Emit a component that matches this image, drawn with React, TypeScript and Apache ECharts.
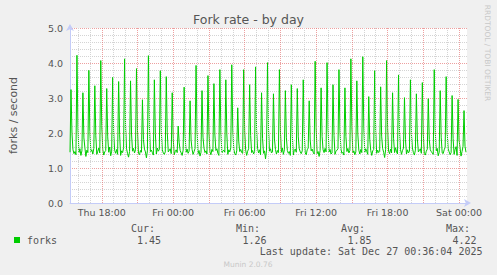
import React, { useEffect, useRef } from "react";
import * as echarts from "echarts";

// 5-minute samples, first sample at Thu 15:20 (minutes counted from Thu 00:00)
const startMinute = 920;
const stepMinutes = 5;

const forks: number[] = [
  1.45,
  3.24, 1.98, 1.52, 1.41, 1.47, 1.38,
  4.22, 2.15, 1.44, 1.55, 1.36, 1.49,
  3.15, 1.86, 1.58, 1.33, 1.51, 1.44,
  3.79, 2.04, 1.47, 1.52, 1.40, 1.56,
  3.35, 1.92, 1.39, 1.48, 1.57, 1.43,
  4.07, 2.21, 1.53, 1.37, 1.46, 1.50,
  3.27, 1.89, 1.45, 1.60, 1.35, 1.48,
  3.59, 2.01, 1.50, 1.42, 1.53, 1.39,
  3.47, 1.95, 1.36, 1.49, 1.44, 1.58,
  4.12, 2.18, 1.55, 1.41, 1.31, 1.47,
  3.49, 1.97, 1.48, 1.56, 1.43, 1.52,
  3.84, 2.07, 1.42, 1.38, 1.50, 1.45,
  2.95, 1.81, 1.54, 1.46, 1.29, 1.49,
  4.21, 2.19, 1.47, 1.51, 1.44, 1.37,
  3.52, 1.99, 1.40, 1.57, 1.48, 1.53,
  3.78, 2.05, 1.52, 1.43, 1.39, 1.46,
  3.61, 2.02, 1.46, 1.50, 1.55, 1.41,
  3.15, 1.84, 1.38, 1.47, 1.52, 1.44,
  2.20, 1.72, 1.50, 1.43, 1.36, 1.51,
  3.31, 1.90, 1.45, 1.54, 1.42, 1.48,
  2.92, 1.80, 1.53, 1.39, 1.47, 1.56,
  3.93, 2.11, 1.41, 1.50, 1.34, 1.45,
  3.21, 1.88, 1.57, 1.44, 1.49, 1.40,
  3.64, 2.03, 1.46, 1.38, 1.53, 1.47,
  3.41, 1.94, 1.50, 1.55, 1.42, 1.36,
  3.81, 2.06, 1.43, 1.48, 1.51, 1.45,
  3.52, 1.98, 1.39, 1.52, 1.46, 1.58,
  3.95, 2.12, 1.54, 1.41, 1.37, 1.49,
  2.72, 1.77, 1.47, 1.53, 1.44, 1.42,
  3.81, 2.06, 1.51, 1.36, 1.48, 1.55,
  3.38, 1.93, 1.44, 1.50, 1.40, 1.47,
  3.89, 2.09, 1.56, 1.43, 1.52, 1.38,
  3.15, 1.85, 1.42, 1.49, 1.26, 1.51,
  4.01, 2.14, 1.48, 1.55, 1.43, 1.46,
  3.12, 1.83, 1.53, 1.40, 1.50, 1.44,
  3.81, 2.06, 1.45, 1.57, 1.39, 1.52,
  3.21, 1.88, 1.50, 1.42, 1.47, 1.36,
  3.38, 1.93, 1.37, 1.51, 1.54, 1.45,
  3.27, 1.89, 1.55, 1.46, 1.41, 1.49,
  3.52, 1.98, 1.43, 1.38, 1.52, 1.57,
  2.92, 1.80, 1.49, 1.54, 1.45, 1.40,
  4.05, 2.16, 1.41, 1.47, 1.33, 1.50,
  3.29, 1.90, 1.52, 1.44, 1.56, 1.46,
  4.01, 2.14, 1.46, 1.53, 1.40, 1.43,
  3.38, 1.93, 1.39, 1.48, 1.51, 1.55,
  3.81, 2.06, 1.54, 1.42, 1.45, 1.37,
  3.29, 1.90, 1.47, 1.56, 1.43, 1.50,
  4.12, 2.18, 1.43, 1.49, 1.38, 1.46,
  3.49, 1.97, 1.51, 1.40, 1.53, 1.44,
  4.18, 2.20, 1.45, 1.55, 1.47, 1.39,
  3.04, 1.82, 1.50, 1.36, 1.49, 1.53,
  3.78, 2.05, 1.42, 1.51, 1.44, 1.47,
  3.32, 1.91, 1.56, 1.45, 1.30, 1.52,
  4.07, 2.16, 1.48, 1.41, 1.54, 1.43,
  3.15, 1.85, 1.44, 1.58, 1.46, 1.40,
  3.66, 2.03, 1.53, 1.39, 1.50, 1.57,
  3.01, 1.82, 1.40, 1.52, 1.43, 1.48,
  3.52, 1.98, 1.57, 1.44, 1.37, 1.51,
  3.12, 1.83, 1.46, 1.50, 1.55, 1.42,
  3.44, 1.95, 1.41, 1.37, 1.48, 1.54,
  2.98, 1.81, 1.52, 1.47, 1.43, 1.39,
  3.81, 2.06, 1.49, 1.56, 1.35, 1.45,
  3.21, 1.88, 1.43, 1.41, 1.52, 1.59,
  3.61, 2.02, 1.55, 1.46, 1.38, 1.44,
  3.07, 1.84, 1.39, 1.53, 1.61, 1.36,
  2.96, 1.80, 1.58, 1.34, 1.47, 1.62,
  2.64, 1.62, 1.45,
];

const tickMinutes = [1080, 1440, 1800, 2160, 2520, 2880];
const tickLabels = ["Thu 18:00", "Fri 00:00", "Fri 06:00", "Fri 12:00", "Fri 18:00", "Sat 00:00"];
const yTicks = [0, 1, 2, 3, 4, 5];

const legendName = "forks";
const statHeads = ["Cur:", "Min:", "Avg:", "Max:"];
const statValues = ["1.45", "1.26", "1.85", "4.22"];
const lastUpdate = "Last update: Sat Dec 27 00:36:04 2025";
const titleText = "Fork rate - by day";
const yName = "forks / second";
const sideText = "RRDTOOL / TOBI OETIKER";
const footer = "Munin 2.0.76";

export default function App() {
  const ref = useRef<HTMLDivElement>(null);
  useEffect(() => {
    if (!ref.current) return;
    const chart = echarts.init(ref.current, undefined, { renderer: "svg" });
    const xMin = startMinute;
    const xMax = startMinute + stepMinutes * forks.length;
    const seriesData = forks.map((v, i) => [startMinute + i * stepMinutes, v]);

    const minorLines: any[] = [];
    const majorLines: any[] = [];
    for (let m = Math.ceil(xMin / 60) * 60; m < xMax; m += 60) {
      if (m % 180 === 0) majorLines.push({ xAxis: m });
      else minorLines.push({ xAxis: m });
    }

    const mono = "DejaVu Sans Mono";
    const sans = "DejaVu Sans";
    const statX = [155, 260, 365, 470];
    const valX = [161, 266.5, 371.5, 476.5];

    const graphics: any[] = [
      {
        type: "text",
        x: 248.5,
        y: 19,
        style: { text: titleText, font: `12.5px '${sans}'`, fill: "#555", align: "center", verticalAlign: "middle" },
      },
      {
        type: "text",
        x: 487,
        y: 53,
        rotation: -Math.PI / 2,
        style: { text: sideText, font: `7.5px '${sans}'`, fill: "#c8c8c8", align: "center", verticalAlign: "middle" },
      },
      { type: "rect", shape: { x: 14, y: 237, width: 6, height: 6 }, style: { fill: "#00cc00" } },
      {
        type: "text",
        x: 27,
        y: 240,
        style: { text: legendName, font: `10px '${mono}'`, fill: "#555", align: "left", verticalAlign: "middle" },
      },
      {
        type: "text",
        x: 482.5,
        y: 251.5,
        style: { text: lastUpdate, font: `10px '${mono}'`, fill: "#555", align: "right", verticalAlign: "middle" },
      },
      {
        type: "text",
        x: 248,
        y: 264.5,
        style: { text: footer, font: `7.5px '${sans}'`, fill: "#c8c8c8", align: "center", verticalAlign: "middle" },
      },
    ];
    statHeads.forEach((h, i) => {
      graphics.push({
        type: "text",
        x: statX[i],
        y: 228.5,
        style: { text: h, font: `10px '${mono}'`, fill: "#555", align: "right", verticalAlign: "middle" },
      });
      graphics.push({
        type: "text",
        x: valX[i],
        y: 240,
        style: { text: statValues[i], font: `10px '${mono}'`, fill: "#555", align: "right", verticalAlign: "middle" },
      });
    });

    chart.setOption({
      animation: false,
      backgroundColor: "#f0f0f0",
      grid: {
        left: 67,
        top: 28,
        width: 400,
        height: 175,
        show: true,
        backgroundColor: "#ffffff",
        borderWidth: 0,
      },
      xAxis: {
        type: "value",
        min: xMin,
        max: xMax,
        axisLine: {
          show: true,
          onZero: false,
          lineStyle: { color: "#c4ccf8", width: 1 },
          symbol: ["none", "arrow"],
          symbolSize: [6, 7],
          symbolOffset: [0, 4],
        },
        axisTick: { show: false },
        splitLine: { show: false },
        axisLabel: {
          customValues: tickMinutes,
          formatter: (v: number) => {
            const i = tickMinutes.indexOf(v);
            return i >= 0 ? tickLabels[i] : "";
          },
          fontSize: 9.5,
          fontFamily: sans,
          color: "#555",
          margin: 4,
        },
      },
      yAxis: {
        type: "value",
        min: yTicks[0],
        max: yTicks[yTicks.length - 1],
        interval: 1,
        name: yName,
        nameLocation: "middle",
        nameGap: 51,
        nameTextStyle: { fontSize: 11, fontFamily: sans, color: "#555" },
        axisLine: {
          show: true,
          lineStyle: { color: "#c4ccf8", width: 1 },
          symbol: ["none", "arrow"],
          symbolSize: [6, 7],
          symbolOffset: [0, 4],
        },
        axisTick: { show: false },
        axisLabel: {
          formatter: (v: number) => v.toFixed(1),
          fontSize: 9.5,
          fontFamily: sans,
          color: "#555",
          margin: 7,
        },
        splitLine: { show: true, lineStyle: { color: "rgba(230,120,120,0.7)", type: [1, 1], width: 1 } },
        minorTick: { show: false, splitNumber: 5 },
        minorSplitLine: { show: true, lineStyle: { color: "#d4d4d4", type: [1, 1], width: 1 } },
      },
      graphic: graphics,
      series: [
        {
          type: "line",
          data: [],
          silent: true,
          z: 1,
          markLine: {
            silent: true,
            symbol: "none",
            label: { show: false },
            animation: false,
            data: [
              ...minorLines.map((d) => ({ ...d, lineStyle: { color: "#d4d4d4", type: [1, 1], width: 1 } })),
              ...majorLines.map((d) => ({ ...d, lineStyle: { color: "rgba(230,120,120,0.7)", type: [1, 1], width: 1 } })),
            ],
          },
        },
        {
          type: "line",
          name: legendName,
          data: seriesData,
          showSymbol: false,
          symbol: "none",
          z: 3,
          lineStyle: { color: "#00cc00", width: 1 },
          itemStyle: { color: "#00cc00" },
        },
      ],
    });
    return () => chart.dispose();
  }, []);
  return (
    <div
      ref={ref}
      style={{ position: "fixed", left: 0, top: 0, width: 497, height: 275 }}
    />
  );
}
